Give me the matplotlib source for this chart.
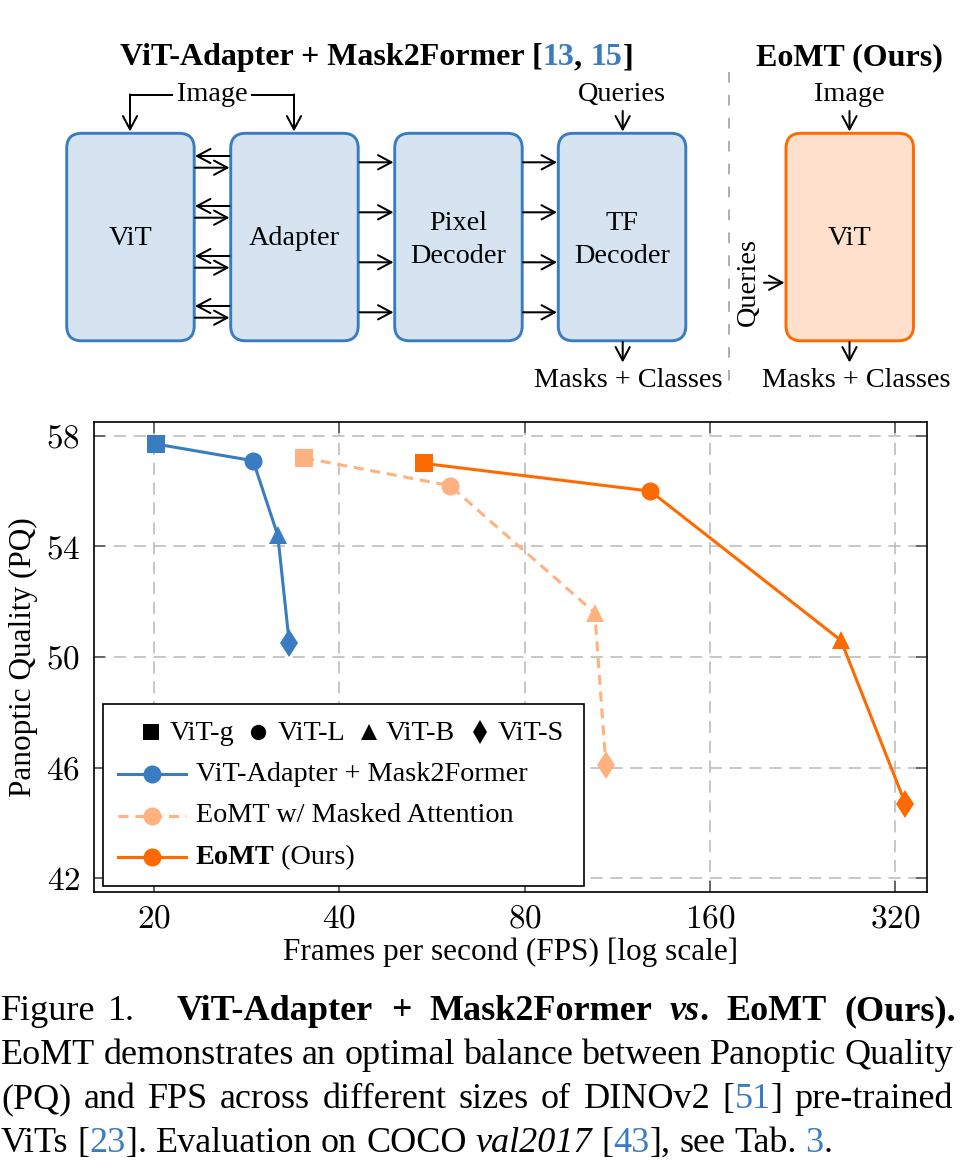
import matplotlib
matplotlib.use('Agg')
import matplotlib.pyplot as plt
from matplotlib.patches import FancyBboxPatch, Rectangle, FancyArrowPatch
from matplotlib.lines import Line2D

# ---------------- data ----------------
sizes = ['ViT-g', 'ViT-L', 'ViT-B', 'ViT-S']
size_markers = ['s', 'o', '^', 'd']
methods = ['ViT-Adapter + Mask2Former', 'EoMT w/ Masked Attention', 'EoMT (Ours)']
fps_adapter = [20.2, 29.0, 31.8, 33.2]
pq_adapter = [57.7, 57.1, 54.4, 50.5]
fps_masked = [35.1, 60.5, 104.0, 108.4]
pq_masked = [57.2, 56.2, 51.6, 46.1]
fps_eomt = [55.0, 128.0, 261.0, 332.0]
pq_eomt = [57.0, 56.0, 50.6, 44.7]
x_ticks = [20, 40, 80, 160, 320]
y_ticks = [42, 46, 50, 54, 58]

BLUE = '#3a7cc2'
LORANGE = '#ffb27f'
ORANGE = '#ff6a00'
BLUE_FILL = '#d6e4f2'
ORANGE_FILL = '#ffe0cc'
SERIF = 'Liberation Serif'

plt.rcParams['mathtext.fontset'] = 'cm'
plt.rcParams['font.family'] = [SERIF, 'DejaVu Serif']

W, H = 978, 1171
fig = plt.figure(figsize=(W / 100, H / 100), dpi=100)

# ---------------- chart ----------------
ax = fig.add_axes([94 / W, (H - 892) / H, (927 - 94) / W, (892 - 422) / H])
ax.set_xscale('log')
ax.set_xlim(16, 360)
ax.set_ylim(41.5, 58.5)
ax.set_xticks(x_ticks)
ax.set_xticklabels(['$%d$' % v for v in x_ticks])
ax.xaxis.set_minor_locator(matplotlib.ticker.NullLocator())
ax.set_yticks(y_ticks)
ax.set_yticklabels(['$%d$' % v for v in y_ticks])
ax.tick_params(direction='in', top=True, right=True, length=8, width=1.2,
               color='#555555', labelsize=24)
ax.tick_params(axis='y', pad=10)
ax.tick_params(axis='x', pad=9)
ax.grid(True, color='#b8b8b8', linestyle=(0, (8, 5)), linewidth=1.1, zorder=0)
ax.set_axisbelow(True)
for s in ax.spines.values():
    s.set_linewidth(1.2)

series = [
    (fps_adapter, pq_adapter, BLUE, '-'),
    (fps_masked, pq_masked, LORANGE, (0, (3.3, 2.2))),
    (fps_eomt, pq_eomt, ORANGE, '-'),
]
msize = {'s': 13, 'o': 13, '^': 13, 'd': 14.5}
for xs, ys, c, ls in series:
    ax.plot(xs, ys, color=c, linestyle=ls, linewidth=2.2, zorder=3)
    for x, y, m in zip(xs, ys, size_markers):
        ax.plot([x], [y], marker=m, markersize=msize[m], color=c,
                markeredgewidth=0, linestyle='none', zorder=4)

# ---------------- overlay in pixel coordinates ----------------
ov = fig.add_axes([0, 0, 1, 1], zorder=10)
ov.set_xlim(0, W)
ov.set_ylim(H, 0)
ov.axis('off')
ov.patch.set_alpha(0)

renderer = fig.canvas.get_renderer()


def run_width(txt, kw):
    t = ov.text(0, 0, txt, **kw)
    w = t.get_window_extent(renderer).width
    t.remove()
    return w


def word_width(word):
    return sum(run_width(t, kw) for t, kw in word)


def draw_word(word, x, y):
    for t, kw in word:
        ov.text(x, y, t, ha='left', va='baseline', **kw)
        x += run_width(t, kw)
    return x


def draw_words(words, x0, y, x1=None, gap=None):
    ws = [word_width(w) for w in words]
    if x1 is not None and len(words) > 1:
        g = (x1 - x0 - sum(ws)) / (len(words) - 1)
    else:
        g = gap
    x = x0
    for w, wd in zip(words, ws):
        draw_word(w, x, y)
        x += wd + g


def centered(word, xc, y):
    w = word_width(word)
    draw_word(word, xc - w / 2, y)


def arrow(p0, p1, lw=1.45):
    ov.add_patch(FancyArrowPatch(p0, p1, arrowstyle='->,head_length=0.6,head_width=0.32',
                                 mutation_scale=16, lw=lw, color='black',
                                 shrinkA=0, shrinkB=0))


# ---- diagram ----
TB = dict(fontfamily=SERIF, fontsize=23, fontweight='bold', color='black')
TBb = dict(fontfamily=SERIF, fontsize=23, fontweight='bold', color=BLUE)
centered([('ViT-Adapter + Mask2Former [', TB), ('13', TBb), (', ', TB), ('15', TBb), (']', TB)], 376.5, 65)
centered([('EoMT (Ours)', TB)], 849.5, 65)

TX = dict(fontfamily=SERIF, fontsize=20.3, color='black')
bw, bh, btop = 127.5, 207.5, 133.3
boxes = [(66.7, 'ViT', BLUE, BLUE_FILL), (230.7, 'Adapter', BLUE, BLUE_FILL),
         (394.7, 'Pixel\nDecoder', BLUE, BLUE_FILL), (558.3, 'TF\nDecoder', BLUE, BLUE_FILL),
         (786.0, 'ViT', ORANGE, ORANGE_FILL)]
for x0, lab, ec, fc in boxes:
    ov.add_patch(FancyBboxPatch((x0, btop), bw, bh,
                                boxstyle='round,pad=0,rounding_size=15',
                                ec=ec, fc=fc, lw=2.1))
    xc = x0 + bw / 2
    lines = lab.split('\n')
    if len(lines) == 1:
        ov.text(xc, 245, lab, ha='center', va='baseline', **TX)
    else:
        ov.text(xc, 230, lines[0], ha='center', va='baseline', **TX)
        ov.text(xc, 263, lines[1], ha='center', va='baseline', **TX)

# Image bracket
ov.text(212.5, 101, 'Image', ha='center', va='baseline', **TX)
ov.plot([172, 130], [95, 95], color='black', lw=1.45)
ov.plot([252, 294], [95, 95], color='black', lw=1.45)
arrow((130, 94.4), (130, 131.5))
arrow((294, 94.4), (294, 131.5))
# ViT <-> Adapter
for k in range(4):
    arrow((229.5, 156 + 50 * k), (195, 156 + 50 * k))
    arrow((195, 167.7 + 50 * k), (229.5, 167.7 + 50 * k))
    arrow((359.5, 162.3 + 50 * k), (393.5, 162.3 + 50 * k))
    arrow((523, 162.3 + 50 * k), (557, 162.3 + 50 * k))
# Queries / Masks for TF decoder
ov.text(622, 101, 'Queries', ha='center', va='baseline', **TX)
arrow((622.7, 111), (622.7, 131.5))
arrow((622.7, 342), (622.7, 362.5))
ov.text(628, 387, 'Masks + Classes', ha='center', va='baseline', **TX)
# separator
ov.plot([729, 729], [72, 393], color='#999999', lw=1.1, linestyle=(0, (7, 8)))
# EoMT
ov.text(849.5, 101, 'Image', ha='center', va='baseline', **TX)
arrow((849.5, 111), (849.5, 131.5))
arrow((849.5, 342), (849.5, 362.5))
ov.text(856, 387, 'Masks + Classes', ha='center', va='baseline', **TX)
ov.text(748, 282, 'Queries', ha='center', va='center', rotation=90, **TX)
arrow((764, 282.7), (784.5, 282.7))

# ---- axis labels ----
LB = dict(fontfamily=SERIF, fontsize=22.5, color='black')
ov.text(23, 657, 'Panoptic Quality (PQ)', ha='center', va='center', rotation=90, **LB)
ov.text(511, 960, 'Frames per second (FPS) [log scale]', ha='center', va='baseline', **LB)

# ---- legend ----
ov.add_patch(Rectangle((103, 704), 481, 182, fc='white', ec='black', lw=1.2, zorder=1))
LT = dict(fontfamily=SERIF, fontsize=20.3, color='black', zorder=3)
row1_mx = [151, 257.5, 369, 480]
row1_tx = [170, 278, 386, 498]
lsz = {'s': 11, 'o': 11, '^': 11, 'd': 12.5}
for m, name, mx, tx in zip(size_markers, sizes, row1_mx, row1_tx):
    ov.plot([mx], [731.5], marker=m, markersize=lsz[m], color='black',
            markeredgewidth=0, linestyle='none', zorder=3)
    ov.text(tx, 740, name, ha='left', va='baseline', **LT)

leg_y = [774, 815.7, 857]
leg_base = [781, 822.5, 864]
for (xs, ys, c, ls), name, yl, yb in zip(series, methods, leg_y, leg_base):
    ov.plot([117.5, 185.6], [yl, yl], color=c, linestyle=ls, lw=2.2, zorder=3)
    ov.plot([151.5], [yl], marker='o', markersize=13, color=c, markeredgewidth=0,
            linestyle='none', zorder=4)
    if name == 'EoMT (Ours)':
        draw_word([('EoMT', dict(LT, fontweight='bold')), (' (Ours)', LT)], 195.6, yb)
    else:
        ov.text(195.6, yb, name, ha='left', va='baseline', **LT)

# ---- caption ----
CR = dict(fontfamily=SERIF, fontsize=26, color='black')
CB = dict(CR, fontweight='bold')
CBI = dict(CB, fontstyle='italic')
CI = dict(CR, fontstyle='italic')
CBL = dict(CR, color=BLUE)


def plain(s, kw=CR):
    return [[(w, kw)] for w in s.split()]


draw_words(plain('Figure 1.'), 1, 1020, gap=12)
line1 = plain('ViT-Adapter + Mask2Former', CB) + [[('vs', CBI), ('.', CB)]] + plain('EoMT (Ours).', CB)
draw_words(line1, 177, 1020, x1=956)
draw_words(plain('EoMT demonstrates an optimal balance between Panoptic Quality'), 1, 1064, x1=953)
line3 = plain('(PQ) and FPS across different sizes of DINOv2') + [[('[', CR), ('51', CBL), (']', CR)]] + plain('pre-trained')
draw_words(line3, 1, 1108, x1=953)
line4 = (plain('ViTs') + [[('[', CR), ('23', CBL), (']', CR), ('.', CR)]] + plain('Evaluation on COCO')
         + [[('val2017', CI)]] + [[('[', CR), ('43', CBL), (']', CR), (',', CR)]] + plain('see Tab.')
         + [[('3', CBL), ('.', CR)]])
draw_words(line4, 1, 1152, gap=9)

fig.savefig('out.png', dpi=100)
